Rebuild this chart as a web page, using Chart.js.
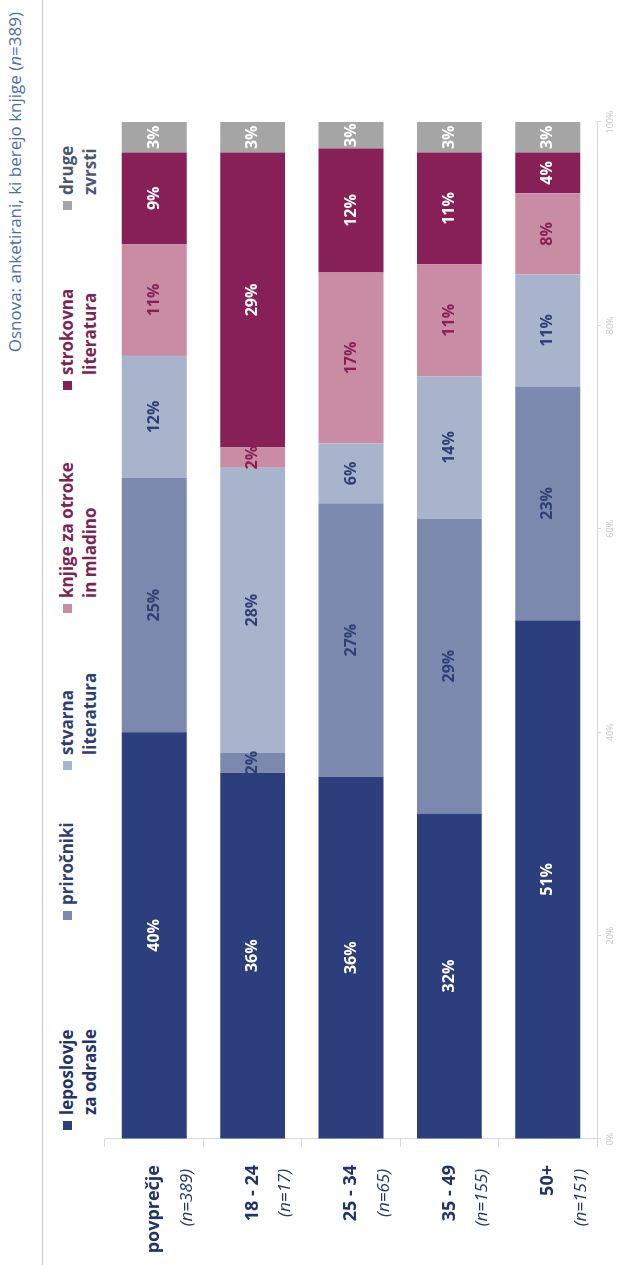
<!DOCTYPE html>
<html>
<head>
<meta charset="utf-8">
<script src="https://cdn.jsdelivr.net/npm/chart.js@4.4.1/dist/chart.umd.min.js"></script>
<style>
  html, body { margin: 0; padding: 0; background: #fff; overflow: hidden; }
  /* chart is laid out landscape, then turned a quarter to the left */
  #page {
    position: absolute; left: 0; top: 0;
    width: 1265px; height: 622px;
    transform-origin: 0 0;
    transform: translateY(1265px) rotate(-90deg);
    font-family: "Open Sans", sans-serif;
    background: #fff;
  }
  #title { position: absolute; right: 12px; top: 3px; font-size: 17px; color: #4a6cad; white-space: nowrap; }
  #rule { position: absolute; left: 0; width: 1265px; top: 42px; height: 0; border-top: 1px solid #c8c8c8; z-index: 2; }
  .item { position: absolute; top: 55px; font-weight: bold; font-size: 17px; line-height: 23px; }
  .item .box { position: absolute; left: 0; top: 8px; width: 9px; height: 9px; }
  .item .txt { margin-left: 15px; white-space: nowrap; }
  canvas { position: absolute; left: 0; top: 0; }
</style>
</head>
<body>
<div id="page">
  <div id="title">Osnova: anketirani, ki berejo knjige (<i>n</i>=389)</div>
  <div id="legend"></div>
  <canvas id="chart" width="1265" height="622"></canvas>
  <div id="rule"></div>
</div>
<script>
/* PODATKI */
const groups = ["povprečje", "18 - 24", "25 - 34", "35 - 49", "50+"];
const groupN = ["(n=389)", "(n=17)", "(n=65)", "(n=155)", "(n=151)"];

const seriesNames = [
  ["leposlovje", "za odrasle"],
  ["priročniki"],
  ["stvarna", "literatura"],
  ["knjige za otroke", "in mladino"],
  ["strokovna", "literatura"],
  ["druge", "zvrsti"]
];

const leposlovje = [40, 36, 35.6, 32, 51];
const prirocniki = [25, 2, 26.9, 29, 23];
const stvarna = [12, 28, 5.9, 14, 11];
const otroci = [11, 2, 16.8, 11, 8];
const strokovna = [9, 29, 12.2, 11, 4];
const druge = [3, 3, 2.6, 3, 3];

const xTicks = [0, 20, 40, 60, 80, 100];

/* BARVE */
const fills = ["#2c3e7b", "#7c89af", "#a8b4cc", "#c98ca5", "#872057", "#a5a5a5"];
const labelColors = ["#ffffff", "#2e3f73", "#2e3f73", "#872057", "#ffffff", "#ffffff"];
const legendColors = ["#23336a", "#2e3f73", "#2e3f73", "#7d2552", "#7d2552", "#4b5870"];
const legendLeft = [135, 345, 495, 652, 875, 1055];

/* LEGENDA */
const legend = document.getElementById("legend");
seriesNames.forEach((lines, i) => {
  const div = document.createElement("div");
  div.className = "item";
  div.style.left = legendLeft[i] + "px";
  div.style.color = legendColors[i];
  div.innerHTML = `<span class="box" style="background:${fills[i]}"></span>
    <div class="txt">${lines.join("<br>")}</div>`;
  legend.appendChild(div);
});

/* OZNAKE NA STOLPCIH */
const barLabels = {
  id: "barLabels",
  afterDatasetsDraw(chart) {
    const ctx = chart.ctx;
    ctx.save();
    ctx.font = "bold 16px 'Open Sans'";
    ctx.textAlign = "center";
    ctx.textBaseline = "middle";
    chart.data.datasets.forEach((ds, di) => {
      const meta = chart.getDatasetMeta(di);
      meta.data.forEach((bar, i) => {
        const v = ds.data[i];
        if (!v) return;
        ctx.fillStyle = labelColors[di];
        ctx.fillText(Math.round(v) + "%", (bar.x + bar.base) / 2, bar.y);
      });
    });
    ctx.restore();
  }
};

/* KATEGORIJE (dve vrstici) */
const groupLabels = {
  id: "groupLabels",
  afterDraw(chart) {
    const ctx = chart.ctx;
    const y = chart.scales.y;
    ctx.save();
    ctx.fillStyle = "#23336a";
    ctx.textAlign = "right";
    ctx.textBaseline = "middle";
    groups.forEach((g, i) => {
      const py = y.getPixelForTick(i);
      ctx.font = "bold 18px 'Open Sans'";
      ctx.fillText(g, 100, py);
      ctx.font = "italic 17px 'Open Sans'";
      ctx.fillText(groupN[i], 96, py + 33);
    });
    ctx.restore();
  }
};

const values = [leposlovje, prirocniki, stvarna, otroci, strokovna, druge];

new Chart(document.getElementById("chart"), {
  type: "bar",
  data: {
    labels: groups,
    datasets: values.map((d, i) => ({
      label: seriesNames[i].join(" "),
      data: d,
      backgroundColor: fills[i],
      borderWidth: 0,
      categoryPercentage: 1,
      barPercentage: 0.66
    }))
  },
  options: {
    indexAxis: "y",
    responsive: false,
    animation: false,
    devicePixelRatio: 1,
    layout: { padding: { top: 105, left: 0, right: 122, bottom: 0 } },
    plugins: { legend: { display: false }, tooltip: { enabled: false } },
    scales: {
      x: {
        stacked: true,
        min: 0,
        max: 100,
        afterBuildTicks: s => { s.ticks = xTicks.map(v => ({ value: v })); },
        afterFit: s => { s.height = 25; },
        grid: { drawOnChartArea: false, color: "#d9d9d9", tickLength: 4 },
        border: { color: "#d9d9d9" },
        ticks: {
          color: "#c4c4c4",
          font: { family: "Open Sans", size: 9 },
          padding: 4,
          callback: v => v + "%"
        }
      },
      y: {
        stacked: true,
        afterFit: s => { s.width = 126; },
        grid: { drawOnChartArea: false, color: "#d9d9d9", tickLength: 8, offset: true },
        border: { color: "#d9d9d9" },
        ticks: { display: false }
      }
    }
  },
  plugins: [barLabels, groupLabels]
});
</script>
</body>
</html>
